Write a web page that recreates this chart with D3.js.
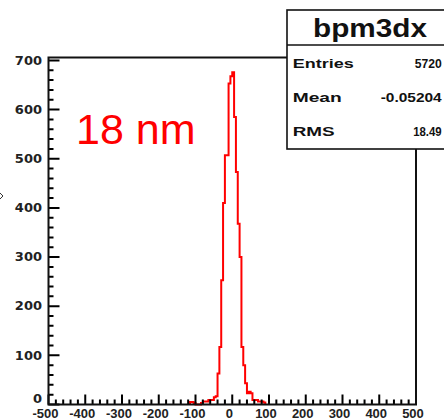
<!DOCTYPE html>
<html>
<head>
<meta charset="utf-8">
<script src="https://cdn.jsdelivr.net/npm/d3@7"></script>
<style>
  body { margin: 0; background: #fff; }
</style>
</head>
<body>
<div id="chart"></div>
<script>
// histogram bins (lower edge, width 5) and their contents
const binLow = [-115, -110, -105, -100, -95, -90, -85, -80, -75, -70, -65, -60, -55, -50, -45,
                -40, -35, -30, -25, -20, -15, -10, -5, 0, 5, 10, 15, 20, 25, 30, 35, 40, 45,
                50, 55, 60, 65, 70, 75, 80, 85];
const counts = [5, 5, 3, 0, 0, 0, 3, 6, 6, 6, 9, 9, 9, 15, 17,
                63, 117, 253, 410, 507, 507, 653, 668, 676, 585, 473, 368, 300, 117, 80, 43, 23, 26,
                23, 9, 9, 9, 6, 6, 6, 4];
const binWidth = 5;

const xTickValues = [-500, -400, -300, -200, -100, 0, 100, 200, 300, 400, 500];
const yTickValues = [0, 100, 200, 300, 400, 500, 600, 700];

const histTitle = 'bpm3dx';
const statNames = ['Entries', 'Mean', 'RMS'];
const statValues = ['5720', '-0.05204', '18.49'];
const annotation = '18 nm';

const width = 444, height = 420;
const frame = { left: 48.5, right: 416, top: 57.5, bottom: 404.5 };
const box = { x: 287, y: 10, w: 170, h: 139, titleH: 35 };

const svg = d3.select('#chart')
    .append('svg')
    .attr('width', width)
    .attr('height', height);

const x = d3.scaleLinear().domain([-500, 500]).range([frame.left, frame.right]);
const y = d3.scaleLinear().domain([0, 706]).range([frame.bottom, frame.top]);

// histogram outline as steps
const pts = [[x(binLow[0]), y(0)]];
binLow.forEach((lo, i) => {
    pts.push([x(lo), y(counts[i])]);
    pts.push([x(lo + binWidth), y(counts[i])]);
});
pts.push([x(binLow[binLow.length - 1] + binWidth), y(0)]);

svg.append('path')
    .attr('d', d3.line()(pts))
    .attr('fill', 'none')
    .attr('stroke', '#ff0000')
    .attr('stroke-width', 2)
    .attr('stroke-linejoin', 'miter');

// ticks, drawn inside the frame, as one path each
const xMinor = x.ticks(50);
const yMinor = y.ticks(35).filter(d => d <= 700);

const tickPath = d3.path();
xMinor.forEach(d => {
    const len = xTickValues.includes(d) ? 10 : 5;
    tickPath.moveTo(x(d), frame.bottom);
    tickPath.lineTo(x(d), frame.bottom - len);
});
yMinor.forEach(d => {
    const len = yTickValues.includes(d) ? 11 : 5;
    tickPath.moveTo(frame.left, y(d));
    tickPath.lineTo(frame.left + len, y(d));
});

svg.append('path')
    .attr('d', tickPath.toString())
    .attr('fill', 'none')
    .attr('stroke', '#000')
    .attr('stroke-width', 2);

// tick labels
svg.selectAll('.xlabel')
    .data(xTickValues)
    .join('text')
    .attr('class', 'xlabel')
    .attr('x', d => x(d) - 3)
    .attr('y', 418)
    .attr('text-anchor', 'middle')
    .style('font-family', '"Liberation Sans", Arial, sans-serif')
    .style('font-weight', 'bold')
    .style('font-size', '13px')
    .style('fill', '#222')
    .text(d => d);

svg.selectAll('.ylabel')
    .data(yTickValues)
    .join('text')
    .attr('class', 'ylabel')
    .attr('x', 42)
    .attr('y', d => y(d) + (d === 0 ? -1.5 : 4.3))
    .attr('text-anchor', 'end')
    .style('font-family', '"DejaVu Sans", sans-serif')
    .style('font-weight', 'bold')
    .style('font-size', '13px')
    .style('fill', '#222')
    .text(d => d);

// frame (top and right cut by stats box)
svg.append('path')
    .attr('d', `M${box.x},${frame.top} H${frame.left} V${frame.bottom} H${frame.right} V${box.y + box.h}`)
    .attr('fill', 'none')
    .attr('stroke', '#111')
    .attr('stroke-width', 2);

// stats box
svg.append('rect')
    .attr('x', box.x)
    .attr('y', box.y)
    .attr('width', box.w)
    .attr('height', box.h)
    .attr('fill', '#fff')
    .attr('stroke', '#111')
    .attr('stroke-width', 1.6);

svg.append('line')
    .attr('x1', box.x).attr('x2', box.x + box.w)
    .attr('y1', box.y + box.titleH).attr('y2', box.y + box.titleH)
    .attr('stroke', '#111')
    .attr('stroke-width', 1.6);

svg.append('text')
    .attr('x', 313)
    .attr('y', 37)
    .attr('textLength', 114)
    .attr('lengthAdjust', 'spacingAndGlyphs')
    .style('font-family', '"Liberation Sans", Arial, sans-serif')
    .style('font-weight', 'bold')
    .style('font-size', '26px')
    .style('fill', '#111')
    .text(histTitle);

const rowY = [67.5, 101.5, 135.5];
const nameW = [61, 49, 42];
const valW = [27, 61, 28.5];
const valRight = 441.7;

statNames.forEach((name, i) => {
    svg.append('text')
        .attr('x', 292.7)
        .attr('y', rowY[i])
        .attr('textLength', nameW[i])
        .attr('lengthAdjust', 'spacingAndGlyphs')
        .style('font-family', '"Liberation Sans", Arial, sans-serif')
        .style('font-weight', 'bold')
        .style('font-size', '12px')
        .style('fill', '#111')
        .text(name);
    svg.append('text')
        .attr('x', valRight - valW[i])
        .attr('y', rowY[i])
        .attr('textLength', valW[i])
        .attr('lengthAdjust', 'spacingAndGlyphs')
        .style('font-family', '"Liberation Sans", Arial, sans-serif')
        .style('font-weight', 'bold')
        .style('font-size', '12px')
        .style('fill', '#111')
        .text(statValues[i]);
});

// annotation
svg.append('text')
    .attr('x', 76)
    .attr('y', 144)
    .style('font-family', '"Liberation Sans", Arial, sans-serif')
    .style('font-size', '43px')
    .style('fill', '#ff0000')
    .text(annotation);

// small mark at left edge (cut off arrow)
svg.append('path')
    .attr('d', 'M0,193 L3,196 L0,199')
    .attr('fill', 'none')
    .attr('stroke', '#333')
    .attr('stroke-width', 1);
</script>
</body>
</html>
